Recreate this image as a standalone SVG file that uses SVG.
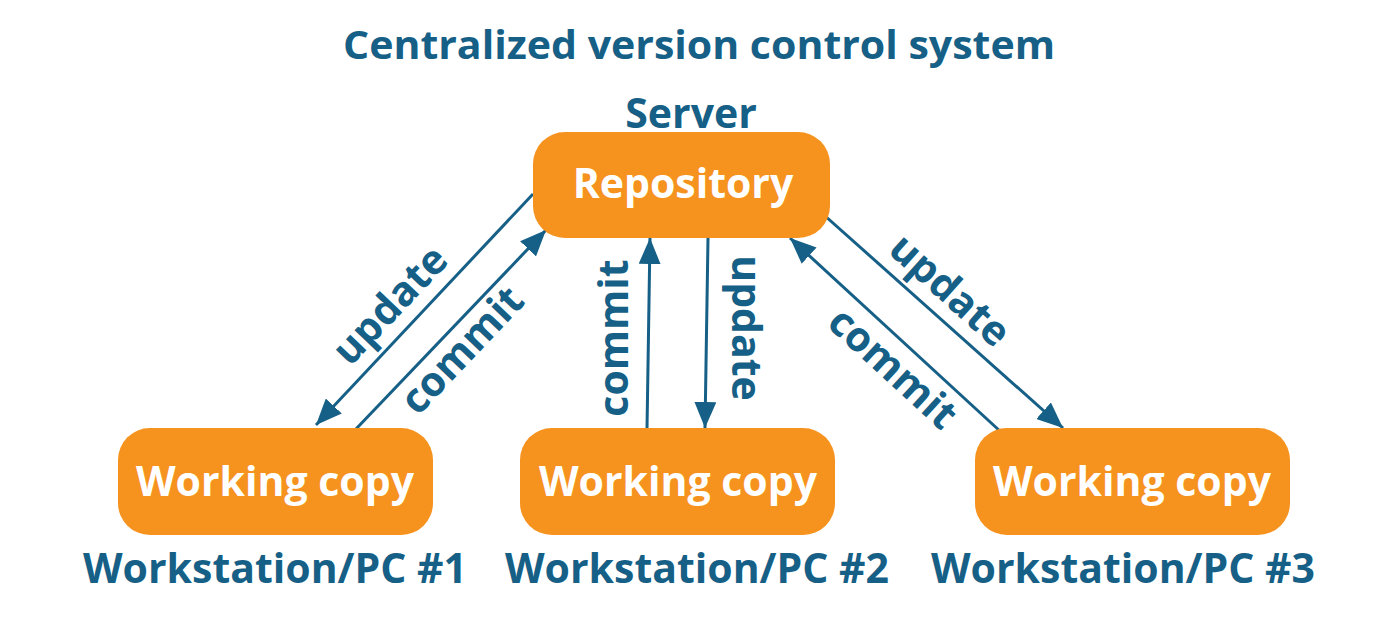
<svg xmlns="http://www.w3.org/2000/svg" width="1400" height="618" viewBox="0 0 1400 618">
<defs>
<style>
.box{fill:#f6921e;}
.wt{font-family:"Open Sans","Liberation Sans",sans-serif;font-weight:700;fill:#ffffff;text-anchor:middle;}
.bt{font-family:"Open Sans","Liberation Sans",sans-serif;font-weight:700;fill:#165f86;text-anchor:middle;}
.ln{stroke:#165f86;stroke-width:3;fill:none;marker-end:url(#ah2);}
</style>
<marker id="ah2" viewBox="0 0 26 22" refX="26" refY="11" markerWidth="26" markerHeight="22" markerUnits="userSpaceOnUse" orient="auto">
<path d="M0,0 L26,11 L0,22 z" fill="#165f86"/>
</marker>
</defs>
<rect width="1400" height="618" fill="#ffffff"/>
<text class="bt" x="699" y="59" font-size="40" textLength="712" lengthAdjust="spacingAndGlyphs">Centralized version control system</text>

<g id="connectors">
<line class="ln" x1="533" y1="194" x2="316" y2="425"/>
<line class="ln" x1="356" y1="429" x2="546" y2="230"/>
<line class="ln" x1="647" y1="429" x2="650" y2="238"/>
<line class="ln" x1="708" y1="238" x2="705" y2="428"/>
<line class="ln" x1="1001" y1="432" x2="790" y2="238"/>
<line class="ln" x1="824" y1="215" x2="1063" y2="428"/>
</g>

<g id="labels">
<text class="bt" font-size="41" transform="translate(390,305) rotate(-46.5)" y="14">update</text>
<text class="bt" font-size="41" transform="translate(462,350) rotate(-46.5)" y="14">commit</text>
<text class="bt" font-size="41" transform="translate(614,338) rotate(-90)" y="14">commit</text>
<text class="bt" font-size="41" transform="translate(746,328) rotate(90)" y="14">update</text>
<text class="bt" font-size="41" transform="translate(893,368) rotate(42.5)" y="14">commit</text>
<text class="bt" font-size="41" transform="translate(950,290) rotate(42)" y="14">update</text>
</g>

<g id="server">
<text class="bt" x="691" y="128" font-size="41">Server</text>
<rect class="box" x="533" y="132" width="297" height="106" rx="32"/>
<text class="wt" x="683" y="198" font-size="41">Repository</text>
</g>

<g id="pc1">
<rect class="box" x="118" y="428" width="315" height="107" rx="32"/>
<text class="wt" x="275" y="496" font-size="41">Working copy</text>
<text class="bt" x="275" y="583" font-size="41">Workstation/PC #1</text>
</g>

<g id="pc2">
<rect class="box" x="520" y="428" width="315" height="107" rx="32"/>
<text class="wt" x="678" y="496" font-size="41">Working copy</text>
<text class="bt" x="697" y="583" font-size="41">Workstation/PC #2</text>
</g>

<g id="pc3">
<rect class="box" x="975" y="428" width="315" height="107" rx="32"/>
<text class="wt" x="1132" y="496" font-size="41">Working copy</text>
<text class="bt" x="1123" y="583" font-size="41">Workstation/PC #3</text>
</g>
</svg>
